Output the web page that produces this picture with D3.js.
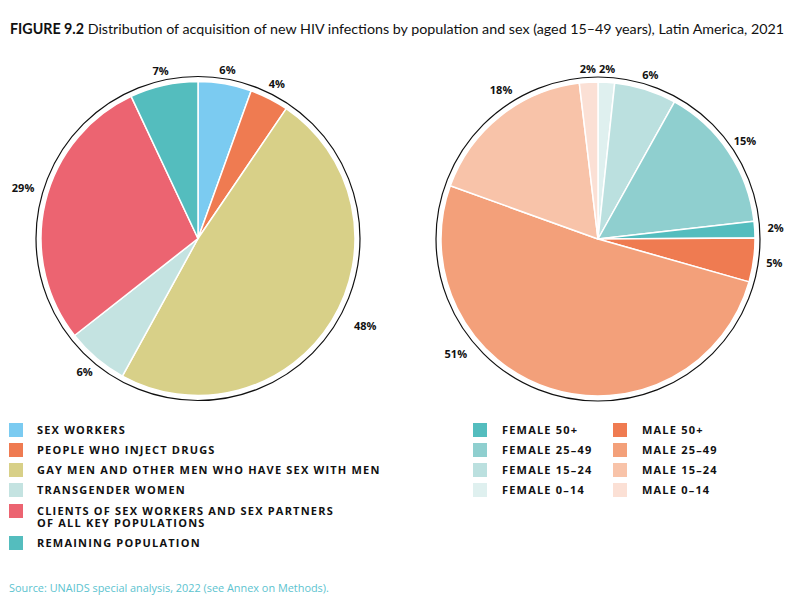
<!DOCTYPE html>
<html><head><meta charset="utf-8">
<script src="https://cdn.jsdelivr.net/npm/d3@7"></script>
<style>
body{margin:0;background:#fff;}
svg{display:block;}
</style></head>
<body>
<svg id="chart" width="790" height="608"></svg>
<script>
// ---- data ----
const popCategories = ["SEX WORKERS","PEOPLE WHO INJECT DRUGS","GAY MEN AND OTHER MEN WHO HAVE SEX WITH MEN","TRANSGENDER WOMEN","CLIENTS OF SEX WORKERS AND SEX PARTNERS|OF ALL KEY POPULATIONS","REMAINING POPULATION"];
const popValues = [5.5, 4.0, 48.5, 6.4, 28.6, 7.0];
const popLabels = ["6%","4%","48%","6%","29%","7%"];
const popColors = ["#7bcbf1","#ef7b51","#d8d088","#c4e3e1","#ec6471","#54bdbe"];

const sexCategories = ["FEMALE 0–14","FEMALE 15–24","FEMALE 25–49","FEMALE 50+","MALE 50+","MALE 25–49","MALE 15–24","MALE 0–14"];
const sexValues = [1.7, 6.4, 15.1, 1.7, 4.5, 51.1, 17.6, 1.9];
const sexLabels = ["2%","6%","15%","2%","5%","51%","18%","2%"];
const sexColors = ["#dff0ef","#bbe0df","#8fcfcf","#54bdbe","#ef7b51","#f3a07a","#f8c3a9","#fbe0d5"];

// legend layout for right chart (column order)
const sexLegendLeft = ["FEMALE 50+","FEMALE 25–49","FEMALE 15–24","FEMALE 0–14"];
const sexLegendRight = ["MALE 50+","MALE 25–49","MALE 15–24","MALE 0–14"];

const titleBold = "FIGURE 9.2";
const titleRest = " Distribution of acquisition of new HIV infections by population and sex (aged 15–49 years), Latin America, 2021";
const sourceText = "Source: UNAIDS special analysis, 2022 (see Annex on Methods).";

// ---- drawing ----
const svg = d3.select("#chart");
const FONT = "'Open Sans', 'DejaVu Sans', sans-serif";

const title = svg.append("text").attr("x", 10).attr("y", 34)
  .style("font-family", "Lato, sans-serif").style("font-size", "13.5px").attr("fill", "#111");
title.append("tspan").style("font-weight", "700").text(titleBold);
title.append("tspan").text(titleRest);
{
  const w = title.node().getComputedTextLength();
  const fs = 13.5 * 775 / w;
  title.style("font-size", fs.toFixed(2) + "px");
}

const rFill = 157, rRing = 162;
const pie = d3.pie().sort(null).value(d => d);
const arc = d3.arc().innerRadius(0).outerRadius(rFill);

// label placement tweaks (layout only): [angleDeg, radius] overrides by slice index
function drawPie(cx, cy, values, labels, colors, labelTweaks) {
  const g = svg.append("g").attr("transform", `translate(${cx},${cy})`);
  g.append("circle").attr("r", rRing).attr("fill", "none").attr("stroke", "#111").attr("stroke-width", 1.2);
  const arcs = pie(values);
  g.selectAll("path").data(arcs).join("path")
    .attr("d", arc)
    .attr("fill", (d, i) => colors[i])
    .attr("stroke", "#fff").attr("stroke-width", 1.5).attr("stroke-linejoin", "round");
  g.selectAll("text.lbl").data(arcs).join("text").attr("class", "lbl")
    .each(function(d, i) {
      let a = (d.startAngle + d.endAngle) / 2;
      let R = 170 + 8 * Math.abs(Math.sin(a));
      const tw = labelTweaks[i];
      if (tw) { a = tw[0] * Math.PI / 180; R = tw[1]; }
      d3.select(this)
        .attr("x", R * Math.sin(a))
        .attr("y", -R * Math.cos(a))
        .attr("dy", "0.35em");
    })
    .attr("text-anchor", "middle")
    .style("font-family", FONT).style("font-size", "11px").style("font-weight", "700")
    .attr("fill", "#111")
    .text((d, i) => labels[i]);
}

drawPie(198, 238.5, popValues, popLabels, popColors, {2: [117.8, 189], 4: [286, 182]});
drawPie(598, 239, sexValues, sexLabels, sexColors, {5: [231, 183], 6: [327, 178]});

// legends
function legendItem(x, y, color, text, textX) {
  svg.append("rect").attr("x", x).attr("y", y).attr("width", 14).attr("height", 14).attr("fill", color);
  const lines = text.split("|");
  const t = svg.append("text").attr("x", textX).attr("y", y + 11)
    .style("font-family", FONT).style("font-size", "11px")
    .style("font-weight", "700").style("letter-spacing", "1.2px").attr("fill", "#111");
  lines.forEach((ln, k) => t.append("tspan").attr("x", textX).attr("dy", k === 0 ? 0 : 12).text(ln));
}
const popLegendY = [423, 443, 463, 483, 504, 536];
popCategories.forEach((c, i) => legendItem(9, popLegendY[i], popColors[i], c, 37));

sexLegendLeft.forEach((c, i) => legendItem(473, 423 + 20 * i, sexColors[sexCategories.indexOf(c)], c, 502));
sexLegendRight.forEach((c, i) => legendItem(613, 423 + 20 * i, sexColors[sexCategories.indexOf(c)], c, 642));

svg.append("text").attr("x", 9).attr("y", 592)
  .style("font-family", FONT).style("font-size", "10.9px").attr("fill", "#5cc3cf")
  .text(sourceText);
</script>
</body></html>
